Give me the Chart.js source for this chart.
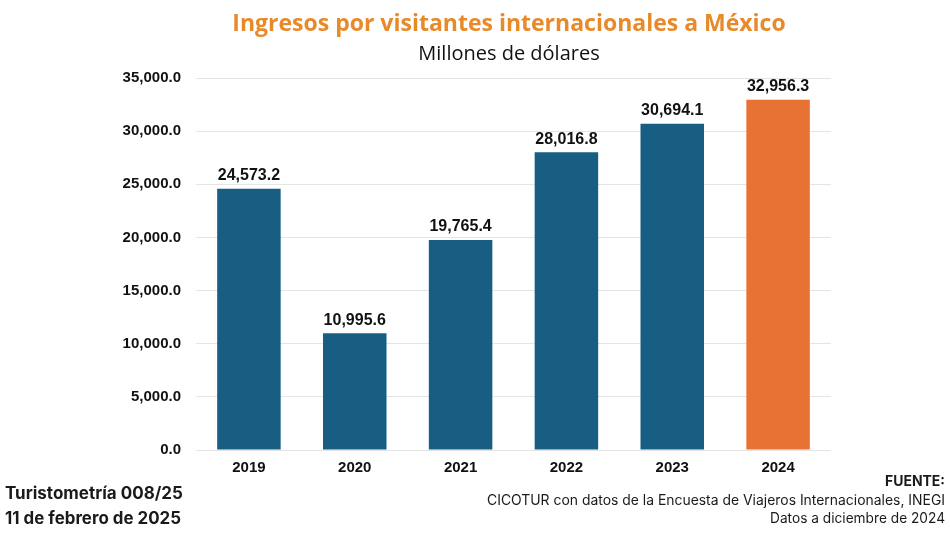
<!DOCTYPE html>
<html>
<head>
<meta charset="utf-8">
<script src="https://cdn.jsdelivr.net/npm/chart.js@4.4.1/dist/chart.umd.min.js"></script>
<style>
  html, body { margin: 0; padding: 0; background: #fff; }
  #wrap { position: relative; width: 950px; height: 534px; }
</style>
</head>
<body>
<div id="wrap"><canvas id="grafica" width="950" height="534"></canvas></div>
<script>
// Datos de la gráfica
const anios = ['2019', '2020', '2021', '2022', '2023', '2024'];
const ingresos = [24573.2, 10995.6, 19765.4, 28016.8, 30694.1, 32956.3];
const coloresBarras = ['#175e82', '#175e82', '#175e82', '#175e82', '#175e82', '#e87234'];

const titulo = 'Ingresos por visitantes internacionales a México';
const subtitulo = 'Millones de dólares';
const notaIzq = ['Turistometría 008/25', '11 de febrero de 2025'];
const notaDer = ['FUENTE:', 'CICOTUR con datos de la Encuesta de Viajeros Internacionales, INEGI', 'Datos a diciembre de 2024'];

const formato = v => v.toLocaleString('en-US', { minimumFractionDigits: 1, maximumFractionDigits: 1 });
const arial = '"Liberation Sans", Arial, sans-serif';

// Etiquetas y textos extra
const textosPlugin = {
    id: 'textos',
    afterDatasetsDraw(chart) {
        const ctx = chart.ctx;
        ctx.save();
        // valores sobre las barras
        ctx.fillStyle = '#111';
        ctx.font = 'bold 16px ' + arial;
        ctx.textAlign = 'center';
        ctx.textBaseline = 'bottom';
        chart.getDatasetMeta(0).data.forEach((bar, i) => {
            ctx.fillText(formato(ingresos[i]), bar.x, bar.y - 5);
        });

        // titulo
        ctx.textBaseline = 'middle';
        ctx.fillStyle = '#e88a2a';
        ctx.font = 'bold 23px "Open Sans", sans-serif';
        ctx.fillText(titulo, 509, 24);
        ctx.fillStyle = '#111';
        ctx.font = '20px "Open Sans", sans-serif';
        ctx.fillText(subtitulo, 509, 54);

        // pie izquierdo
        ctx.textAlign = 'left';
        ctx.fillStyle = '#1a1a1a';
        ctx.font = 'bold 17px Inter, sans-serif';
        ctx.fillText(notaIzq[0], 5, 494, 180);
        ctx.fillText(notaIzq[1], 5, 519, 176);

        // pie derecho
        ctx.textAlign = 'right';
        ctx.font = 'bold 14px Inter, sans-serif';
        ctx.fillText(notaDer[0], 945, 482, 60);
        ctx.font = '14px Inter, sans-serif';
        ctx.fillText(notaDer[1], 945, 501, 458);
        ctx.fillText(notaDer[2], 945, 519, 175);
        ctx.restore();
    }
};

new Chart(document.getElementById('grafica'), {
    type: 'bar',
    data: {
        labels: anios,
        datasets: [{
            data: ingresos,
            backgroundColor: coloresBarras,
            barPercentage: 0.6,
            categoryPercentage: 1.0
        }]
    },
    options: {
        responsive: false,
        animation: false,
        layout: { padding: { top: 78, right: 119, left: 0, bottom: 0 } },
        plugins: {
            legend: { display: false },
            tooltip: { enabled: false }
        },
        scales: {
            y: {
                min: 0,
                max: 35000,
                ticks: {
                    stepSize: 5000,
                    padding: 15,
                    color: '#111',
                    font: { family: arial, size: 15, weight: 'bold' },
                    callback: v => formato(v)
                },
                grid: { color: '#e4e4e4', drawTicks: false },
                border: { display: false },
                afterFit(s) { s.width = 196; }
            },
            x: {
                ticks: {
                    padding: 9,
                    color: '#111',
                    font: { family: arial, size: 15, weight: 'bold' }
                },
                grid: { display: false, drawTicks: false },
                border: { display: false },
                afterFit(s) { s.height = 84; }
            }
        }
    },
    plugins: [textosPlugin]
});
</script>
</body>
</html>
